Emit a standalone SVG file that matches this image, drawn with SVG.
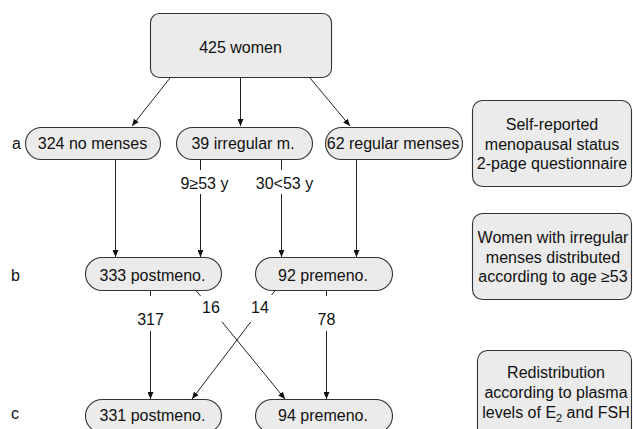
<svg xmlns="http://www.w3.org/2000/svg" width="633" height="429" viewBox="0 0 633 429">
<style>
  .node { fill: #ebebeb; stroke: #333; stroke-width: 1.1; }
  .t { font-family: "Liberation Sans", Arial, sans-serif; font-size: 16px; fill: #111; }
  .m { text-anchor: middle; }
  .conn { fill: none; stroke: #222; stroke-width: 1; }
</style>
<defs>
  <marker id="arr" viewBox="0 0 7 6" markerWidth="7" markerHeight="6" refX="7" refY="3" orient="auto" markerUnits="userSpaceOnUse">
    <path d="M0,0 L7,3 L0,6 z" fill="#111"/>
  </marker>
</defs>
<rect width="633" height="429" fill="#fff"/>

<g id="connectors">
  <path class="conn" marker-end="url(#arr)" d="M170,78 L132,126"/>
  <path class="conn" marker-end="url(#arr)" d="M240.5,78 L240.5,126"/>
  <path class="conn" marker-end="url(#arr)" d="M310,78 L350,126"/>
  <path class="conn" marker-end="url(#arr)" d="M115.5,159 L115.5,257"/>
  <path class="conn" marker-end="url(#arr)" d="M200.5,159 L200.5,170 M200.5,194 L200.5,257"/>
  <path class="conn" marker-end="url(#arr)" d="M281.5,159 L281.5,170 M281.5,194 L281.5,257"/>
  <path class="conn" marker-end="url(#arr)" d="M356.5,159 L356.5,257"/>
  <path class="conn" marker-end="url(#arr)" d="M150.5,290 L150.5,296 M150.5,331 L150.5,399"/>
  <path class="conn" marker-end="url(#arr)" d="M326.5,290 L326.5,296 M326.5,331 L326.5,399"/>
  <path class="conn" marker-end="url(#arr)" d="M194,288 L200.6,296 M221.9,321.7 L285,399"/>
  <path class="conn" marker-end="url(#arr)" d="M277,288 L271.6,295 M250.7,322 L192,399"/>
  <text class="t m" x="204.5" y="189">9≥53 y</text>
  <text class="t m" x="284.5" y="189">30&lt;53 y</text>
  <text class="t m" x="150.5" y="325">317</text>
  <text class="t m" x="211" y="313">16</text>
  <text class="t m" x="260" y="313">14</text>
  <text class="t m" x="326.5" y="325">78</text>
</g>

<g id="n-women">
  <rect class="node" x="150.5" y="13.5" width="181" height="64" rx="9"/>
  <text class="t m" x="240.5" y="53">425 women</text>
</g>

<g id="n-nomenses">
  <rect class="node" x="25.5" y="127.5" width="135" height="32" rx="16"/>
  <text class="t m" x="92.5" y="149">324 no menses</text>
</g>
<g id="n-irregular">
  <rect class="node" x="176.5" y="127.5" width="136" height="32" rx="16"/>
  <text class="t m" x="243" y="149">39 irregular m.</text>
</g>
<g id="n-regular">
  <rect class="node" x="325.5" y="127.5" width="137" height="32" rx="16"/>
  <text class="t m" x="393" y="149">62 regular menses</text>
</g>

<g id="n-post-b">
  <rect class="node" x="85.5" y="257.5" width="136" height="33" rx="16.5"/>
  <text class="t m" x="152.5" y="281">333 postmeno.</text>
</g>
<g id="n-pre-b">
  <rect class="node" x="255.5" y="257.5" width="137" height="33" rx="16.5"/>
  <text class="t m" x="323" y="281">92 premeno.</text>
</g>

<g id="n-post-c">
  <rect class="node" x="85.5" y="399.5" width="136" height="33" rx="16.5"/>
  <text class="t m" x="152.5" y="421">331 postmeno.</text>
</g>
<g id="n-pre-c">
  <rect class="node" x="255.5" y="399.5" width="137" height="33" rx="16.5"/>
  <text class="t m" x="323" y="421">94 premeno.</text>
</g>

<g id="row-labels">
  <text class="t" x="12" y="149">a</text>
  <text class="t" x="11" y="281">b</text>
  <text class="t" x="11" y="419">c</text>
</g>

<g id="n-note1">
  <rect class="node" x="472.5" y="100.5" width="159" height="86" rx="10"/>
  <text class="t m" x="552" y="130">Self-reported</text>
  <text class="t m" x="552" y="149.5">menopausal status</text>
  <text class="t m" x="552" y="169">2-page questionnaire</text>
</g>
<g id="n-note2">
  <rect class="node" x="472.5" y="213.5" width="159" height="86" rx="10"/>
  <text class="t m" x="553" y="243">Women with irregular</text>
  <text class="t m" x="553" y="262.5">menses distributed</text>
  <text class="t m" x="553" y="282">according to age ≥53</text>
</g>
<g id="n-note3">
  <rect class="node" x="477.5" y="350.5" width="154" height="90" rx="10"/>
  <text class="t m" x="556" y="377.5">Redistribution</text>
  <text class="t m" x="556" y="397.5">according to plasma</text>
  <text class="t m" x="556" y="417.5">levels of E<tspan font-size="11" dy="4">2</tspan><tspan dy="-4"> and FSH</tspan></text>
</g>
</svg>
